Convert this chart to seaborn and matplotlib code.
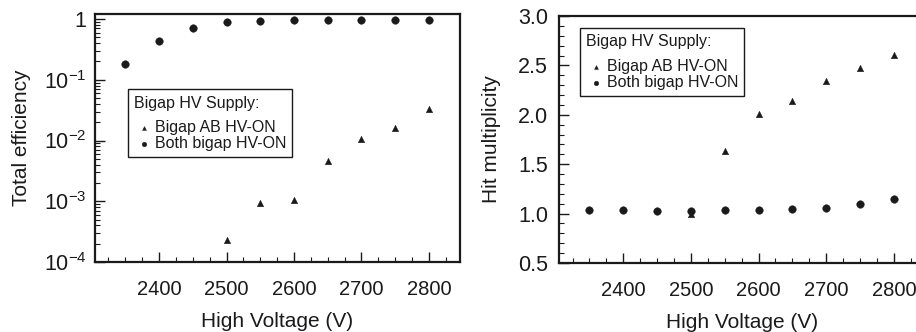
import numpy as np
import pandas as pd
import matplotlib
matplotlib.use("Agg")
import matplotlib.pyplot as plt
from matplotlib.ticker import MultipleLocator, LogLocator, NullFormatter
import seaborn as sns

# data
voltage = [2350, 2400, 2450, 2500, 2550, 2600, 2650, 2700, 2750, 2800]
eff_both = [0.18, 0.44, 0.72, 0.89, 0.94, 0.97, 0.97, 0.97, 0.98, 0.98]
eff_ab_volt = [2500, 2550, 2600, 2650, 2700, 2750, 2800]
eff_ab = [2.3e-4, 9.3e-4, 1.04e-3, 4.6e-3, 1.07e-2, 1.63e-2, 3.25e-2]

mult_both = [1.035, 1.035, 1.027, 1.03, 1.032, 1.035, 1.045, 1.057, 1.094, 1.15]
mult_ab_volt = [2500, 2550, 2600, 2650, 2700, 2750, 2800]
mult_ab = [1.0, 1.63, 2.005, 2.14, 2.34, 2.47, 2.61]

labels = ["Bigap AB HV-ON", "Both bigap HV-ON"]
eff_ticks = [1e-4, 1e-3, 1e-2, 1e-1, 1]
eff_ticklabels = [r"$\mathdefault{10^{-4}}$", r"$\mathdefault{10^{-3}}$",
                  r"$\mathdefault{10^{-2}}$", r"$\mathdefault{10^{-1}}$", "1"]

sns.set_style("ticks")
plt.rcParams["font.family"] = ["Liberation Sans", "DejaVu Sans"]
ink = "#1a1a1a"
plt.rcParams["text.color"] = ink
plt.rcParams["axes.labelcolor"] = ink
plt.rcParams["xtick.color"] = ink
plt.rcParams["ytick.color"] = ink

eff_df = pd.concat([
    pd.DataFrame({"hv": eff_ab_volt, "val": eff_ab, "mode": labels[0]}),
    pd.DataFrame({"hv": voltage, "val": eff_both, "mode": labels[1]}),
])
mult_df = pd.concat([
    pd.DataFrame({"hv": mult_ab_volt, "val": mult_ab, "mode": labels[0]}),
    pd.DataFrame({"hv": voltage, "val": mult_both, "mode": labels[1]}),
])

fig = plt.figure(figsize=(9.16, 3.32), dpi=100)
ax1 = fig.add_axes([95 / 916, 70 / 332, 365 / 916, 248 / 332])
ax2 = fig.add_axes([559 / 916, 69 / 332, 366 / 916, 247 / 332])

markers = {labels[0]: "^", labels[1]: "o"}
sizes = {labels[0]: 22, labels[1]: 30}

for ax, df in [(ax1, eff_df), (ax2, mult_df)]:
    for lab in labels:
        sub = df[df["mode"] == lab]
        sns.scatterplot(data=sub, x="hv", y="val", marker=markers[lab], s=sizes[lab],
                        color=ink, edgecolor=ink, linewidth=0.3, ax=ax, label=lab, legend=False)
    ax.set_xlim(2305, 2846)
    ax.xaxis.set_minor_locator(MultipleLocator(25))
    ax.set_xticks([2400, 2500, 2600, 2700, 2800])
    ax.set_xlabel("High Voltage (V)", fontsize=15, labelpad=9)
    for s in ax.spines.values():
        s.set_linewidth(1.6)
        s.set_color(ink)
    ax.tick_params(which="both", direction="in", top=False, right=False)
    ax.tick_params(axis="x", which="major", length=7, width=1.0, pad=13, labelsize=14.5)
    ax.tick_params(axis="y", which="major", length=7, width=1.0, labelsize=15.5)
    ax.tick_params(which="minor", length=3.5, width=0.8)

ax1.set_yscale("log")
ax1.set_ylim(1e-4, 1.21)
ax1.set_yticks(eff_ticks)
ax1.set_yticklabels(eff_ticklabels)
ax1.yaxis.set_minor_locator(LogLocator(base=10, subs=np.arange(2, 10)))
ax1.yaxis.set_minor_formatter(NullFormatter())
ax1.tick_params(axis="y", which="major", pad=6)
ax1.set_ylabel("Total efficiency", fontsize=15, labelpad=9)

ax2.set_ylim(0.5, 3.0)
ax2.yaxis.set_major_locator(MultipleLocator(0.5))
ax2.yaxis.set_minor_locator(MultipleLocator(0.1))
ax2.yaxis.set_major_formatter(plt.FormatStrFormatter("%.1f"))
ax2.tick_params(axis="y", which="major", pad=8)
ax2.set_ylabel("Hit multiplicity", fontsize=15, labelpad=12)

for ax, loc in [(ax1, (0.09, 0.423)), (ax2, (0.057, 0.676))]:
    h, l = ax.get_legend_handles_labels()
    leg = ax.legend(h, l, title="Bigap HV Supply:", loc="lower left", bbox_to_anchor=loc,
                    fontsize=11.5, title_fontsize=11.5, alignment="left", markerscale=0.6,
                    handletextpad=0.1, handlelength=1.2, labelspacing=0.05,
                    borderpad=0.38, borderaxespad=0, fancybox=False, framealpha=1)
    leg._legend_box.sep = 7
    leg.get_frame().set_edgecolor(ink)
    leg.get_frame().set_linewidth(1.0)

fig.savefig("out.png", dpi=100)
